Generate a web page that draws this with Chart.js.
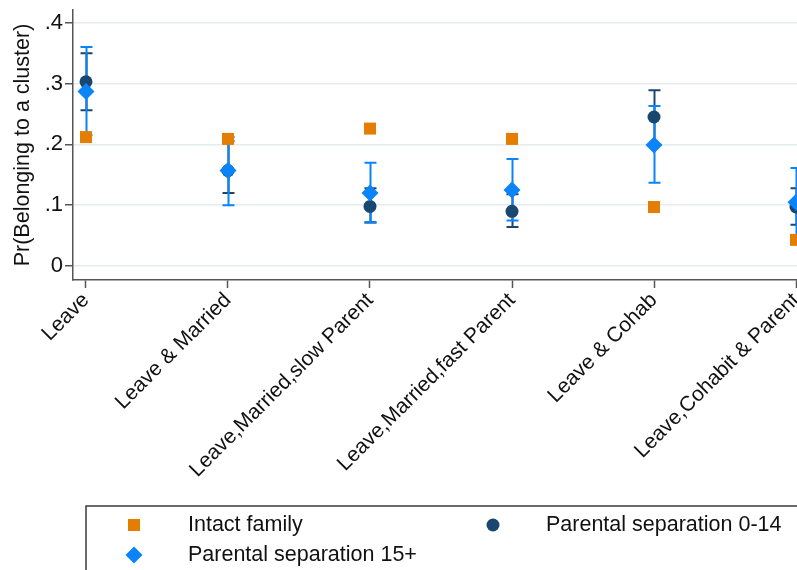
<!DOCTYPE html>
<html>
<head>
<meta charset="utf-8">
<script src="https://cdn.jsdelivr.net/npm/chart.js@4/dist/chart.umd.min.js"></script>
<style>
  body { margin: 0; background: #fff; }
  #chart { display: block; }
</style>
</head>
<body>
<canvas id="chart" width="797" height="570"></canvas>
<script>
var categories = ["Leave", "Leave & Married", "Leave,Married,slow Parent", "Leave,Married,fast Parent", "Leave & Cohab", "Leave,Cohabit & Parent"];
var yTicks = [0, 0.1, 0.2, 0.3, 0.4];

var intact = [0.212, 0.209, 0.226, 0.209, 0.097, 0.043];

var sep014 = [0.303, 0.157, 0.098, 0.090, 0.245, 0.097];
var sep014Low = [0.256, 0.120, 0.072, 0.064, 0.200, 0.068];
var sep014High = [0.350, 0.205, 0.128, 0.118, 0.289, 0.128];

var sep15 = [0.287, 0.157, 0.120, 0.125, 0.199, 0.105];
var sep15Low = [0.215, 0.100, 0.071, 0.075, 0.137, 0.050];
var sep15High = [0.360, 0.212, 0.170, 0.176, 0.263, 0.161];

var orange = "#e37e00";
var navy = "#1a476f";
var blue = "#0a84f8";
var fontFamily = "'Liberation Sans', Arial, sans-serif";

var toPoints = (values) => values.map((v, i) => ({ x: i, y: v }));

// draws the confidence intervals behind the markers
var errorBars = {
    id: "errorBars",
    beforeDatasetsDraw: (chart) => {
        var ctx = chart.ctx;
        var xs = chart.scales.x;
        var ys = chart.scales.y;
        ctx.save();
        // dark bars first, blue ones on top
        [1, 2].forEach((di) => {
            var ds = chart.data.datasets[di];
            ctx.strokeStyle = ds.borderColor;
            ctx.lineWidth = 2;
            ds.errLow.forEach((lo, i) => {
                var hi = ds.errHigh[i];
                var px = Math.round(xs.getPixelForValue(i)) + 0.5;
                var pLo = ys.getPixelForValue(lo);
                var pHi = ys.getPixelForValue(hi);
                ctx.beginPath();
                ctx.moveTo(px, pLo);
                ctx.lineTo(px, pHi);
                ctx.moveTo(px - 6, pLo);
                ctx.lineTo(px + 6, pLo);
                ctx.moveTo(px - 6, pHi);
                ctx.lineTo(px + 6, pHi);
                ctx.stroke();
            });
        });
        ctx.restore();
    }
};

// Stata style boxed legend under the plot
var boxLegend = {
    id: "boxLegend",
    afterDraw: (chart) => {
        var ctx = chart.ctx;
        var ds = chart.data.datasets;
        ctx.save();
        ctx.strokeStyle = "#3a3a3a";
        ctx.lineWidth = 1.5;
        ctx.strokeRect(86, 506, 760, 100);

        var slots = [
            { mx: 134, tx: 188, y: 525 },
            { mx: 134, tx: 188, y: 555 },
            { mx: 493, tx: 546, y: 525 }
        ];
        // order: intact, sep 15+, sep 0-14
        [0, 2, 1].forEach((di, k) => {
            var d = ds[di];
            var s = slots[k];
            ctx.fillStyle = d.backgroundColor;
            ctx.beginPath();
            if (d.pointStyle == "rect") {
                ctx.rect(s.mx - 6, s.y - 6, 12, 12);
            } else if (d.pointStyle == "circle") {
                ctx.arc(s.mx, s.y, 6.5, 0, Math.PI * 2);
            } else {
                ctx.moveTo(s.mx - 8.5, s.y);
                ctx.lineTo(s.mx, s.y - 8.5);
                ctx.lineTo(s.mx + 8.5, s.y);
                ctx.lineTo(s.mx, s.y + 8.5);
                ctx.closePath();
            }
            ctx.fill();
            ctx.fillStyle = "#111";
            ctx.font = "21.5px " + fontFamily;
            ctx.textBaseline = "middle";
            ctx.textAlign = "left";
            ctx.fillText(d.label, s.tx, s.y);
        });
        ctx.restore();
    }
};

var config = {
    type: "scatter",
    data: {
        datasets: [
            {
                label: "Intact family",
                data: toPoints(intact),
                pointStyle: "rect",
                pointRadius: 8.5,
                pointHoverRadius: 8.5,
                backgroundColor: orange,
                borderColor: orange,
                borderWidth: 0,
                order: 3
            },
            {
                label: "Parental separation 0-14",
                data: toPoints(sep014),
                errLow: sep014Low,
                errHigh: sep014High,
                pointStyle: "circle",
                pointRadius: 6.5,
                pointHoverRadius: 6.5,
                backgroundColor: navy,
                borderColor: navy,
                borderWidth: 0,
                order: 2
            },
            {
                label: "Parental separation 15+",
                data: toPoints(sep15),
                errLow: sep15Low,
                errHigh: sep15High,
                pointStyle: "rectRot",
                pointRadius: 8.5,
                pointHoverRadius: 8.5,
                backgroundColor: blue,
                borderColor: blue,
                borderWidth: 0,
                order: 1
            }
        ]
    },
    options: {
        responsive: false,
        animation: false,
        layout: { autoPadding: false, padding: { top: 10, right: 0, bottom: 75, left: 0 } },
        plugins: {
            legend: { display: false },
            tooltip: { enabled: false }
        },
        scales: {
            x: {
                type: "linear",
                min: -0.0915,
                max: 5.007,
                afterBuildTicks: (scale) => {
                    scale.ticks = categories.map((c, i) => ({ value: i }));
                },
                afterFit: (scale) => {
                    scale.height = 215;
                    scale.paddingLeft = 0;
                    scale.paddingRight = 0;
                },
                ticks: {
                    autoSkip: false,
                    minRotation: 45,
                    maxRotation: 45,
                    padding: 0,
                    color: "#111",
                    font: { family: fontFamily, size: 21 },
                    callback: (value) => categories[value]
                },
                grid: {
                    drawOnChartArea: false,
                    drawTicks: true,
                    tickLength: 8,
                    tickColor: "#555",
                    tickWidth: 1.5
                },
                border: { display: true, color: "#555", width: 1.5 }
            },
            y: {
                min: -0.023,
                max: 0.421,
                afterBuildTicks: (scale) => {
                    scale.ticks = yTicks.map((v) => ({ value: v }));
                },
                afterFit: (scale) => {
                    scale.width = 73;
                    scale.paddingTop = 0;
                    scale.paddingBottom = 0;
                },
                ticks: {
                    padding: 2,
                    color: "#111",
                    font: { family: fontFamily, size: 22 },
                    callback: (value) => value == 0 ? "0" : value.toFixed(1).replace("0.", ".")
                },
                grid: {
                    color: "#e3ecee",
                    lineWidth: 1.5,
                    tickLength: 8,
                    tickColor: "#555",
                    tickWidth: 1.5
                },
                border: { display: true, color: "#555", width: 1.5 },
                title: {
                    display: true,
                    text: "Pr(Belonging to a cluster)",
                    color: "#111",
                    font: { family: fontFamily, size: 21.5 },
                    padding: { top: 10, bottom: 0 }
                }
            }
        }
    },
    plugins: [errorBars, boxLegend]
};

new Chart(document.getElementById("chart"), config);
</script>
</body>
</html>
